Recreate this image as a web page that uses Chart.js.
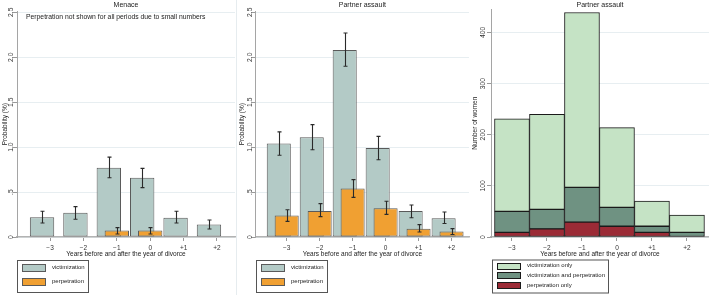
<!DOCTYPE html>
<html>
<head>
<meta charset="utf-8">
<script src="https://cdn.jsdelivr.net/npm/chart.js@4.4.1/dist/chart.umd.min.js"></script>
<style>
  html, body { margin: 0; padding: 0; background: #fff; }
  #wrap { position: relative; width: 709px; height: 295px; overflow: hidden; }
  canvas { position: absolute; top: 0; }
  #sep { position: absolute; left: 236px; top: 0; width: 1px; height: 295px; background: #e6ecef; }
</style>
</head>
<body>
<div id="wrap">
  <canvas id="menace" width="236" height="295" style="left:0"></canvas>
  <div id="sep"></div>
  <canvas id="assault" width="233" height="295" style="left:237px"></canvas>
  <canvas id="counts" width="239" height="295" style="left:470px"></canvas>
</div>
<script>
const FONT = "'Liberation Sans', Arial, sans-serif";

// years relative to divorce
const yearValues = [-3, -2, -1, 0, 1, 2];
const yearLabels = ['\u22123', '\u22122', '\u22121', '0', '+1', '+2'];

const probTickValues = [0, 0.5, 1, 1.5, 2, 2.5];
const probTickLabels = ['0', '.5', '1.0', '1.5', '2.0', '2.5'];
const countTickValues = [0, 100, 200, 300, 400];
const countTickLabels = ['0', '100', '200', '300', '400'];

// Menace (probability %, with 95% CI)
const menaceVict   = [0.22, 0.27, 0.77, 0.66, 0.215, 0.14];
const menaceVictLo = [0.156, 0.197, 0.66, 0.549, 0.156, 0.089];
const menaceVictHi = [0.286, 0.338, 0.889, 0.763, 0.286, 0.189];
const menacePerp   = [null, null, 0.071, 0.071, null, null];
const menacePerpLo = [null, null, 0.033, 0.033, null, null];
const menacePerpHi = [null, null, 0.104, 0.104, null, null];

// Partner assault (probability %, with 95% CI)
const assaultVict   = [1.04, 1.11, 2.08, 0.99, 0.29, 0.21];
const assaultVictLo = [0.91, 0.97, 1.90, 0.86, 0.215, 0.15];
const assaultVictHi = [1.17, 1.25, 2.27, 1.12, 0.356, 0.278];
const assaultPerp   = [0.24, 0.29, 0.54, 0.32, 0.093, 0.06];
const assaultPerpLo = [0.174, 0.227, 0.441, 0.252, 0.056, 0.027];
const assaultPerpHi = [0.304, 0.371, 0.638, 0.397, 0.138, 0.093];

// Partner assault, number of women
const countPerpOnly = [9, 16, 29, 21, 9, 0];
const countBoth     = [41, 38, 68, 37, 12, 9];
const countVictOnly = [181, 186, 342, 156, 49, 34];

const VICT = '#b3cac6', PERP = '#f0a032', EDGE = '#5a5a5a';
const SHIFT = 0.24; // victimization bars sit a bit left of the tick

const pts = vals => yearValues.map((x, i) => ({ x: x, y: vals[i] }));
const yearTicks = s => { s.ticks = yearValues.map(v => ({ value: v })); };

// draws CI whiskers right after each dataset
const errorBars = {
  id: 'errorBars',
  afterDatasetDraw(chart, args) {
    const ds = chart.data.datasets[args.index];
    if (!ds.errLow) return;
    const ctx = chart.ctx, ys = chart.scales.y;
    ctx.save();
    ctx.strokeStyle = '#2a2a2a';
    ctx.lineWidth = 1.1;
    args.meta.data.forEach((bar, i) => {
      const lo = ds.errLow[i], hi = ds.errHigh[i];
      if (lo == null || hi == null) return;
      const x = Math.round(bar.x) + 0.5;
      const y1 = ys.getPixelForValue(lo), y2 = ys.getPixelForValue(hi);
      ctx.beginPath();
      ctx.moveTo(x, y1); ctx.lineTo(x, y2);
      ctx.moveTo(x - 2, y1); ctx.lineTo(x + 2, y1);
      ctx.moveTo(x - 2, y2); ctx.lineTo(x + 2, y2);
      ctx.stroke();
    });
    ctx.restore();
  }
};

// stata style vertical tick labels on the y axis
const rotatedYTicks = {
  id: 'rotatedYTicks',
  afterDraw(chart, args, opts) {
    const ys = chart.scales.y, ctx = chart.ctx;
    ctx.save();
    ctx.font = '6.8px ' + FONT;
    ctx.fillStyle = '#333';
    ctx.textAlign = 'center';
    ctx.textBaseline = 'middle';
    opts.values.forEach((v, i) => {
      ctx.save();
      ctx.translate(chart.chartArea.left - opts.gap, ys.getPixelForValue(v));
      ctx.rotate(-Math.PI / 2);
      ctx.fillText(opts.labels[i], 0, 0);
      ctx.restore();
    });
    ctx.restore();
  }
};

// framed legend under the plot, one item per row
const boxLegend = {
  id: 'boxLegend',
  afterDraw(chart, args, opts) {
    const ctx = chart.ctx;
    const x0 = Math.round(chart.chartArea.left + opts.dx);
    ctx.save();
    ctx.strokeStyle = '#555';
    ctx.lineWidth = 1;
    ctx.strokeRect(x0 + 0.5, opts.top + 0.5, opts.width, opts.height);
    ctx.font = '6px ' + FONT;
    ctx.textBaseline = 'middle';
    opts.order.forEach((di, row) => {
      const ds = chart.data.datasets[di];
      const cy = opts.firstRow + row * opts.rowGap;
      const sy = Math.round(cy - opts.swatchH / 2) + 0.5;
      ctx.fillStyle = ds.backgroundColor;
      ctx.fillRect(x0 + 5.5, sy, 23, opts.swatchH);
      ctx.strokeStyle = ds.borderColor;
      ctx.strokeRect(x0 + 5.5, sy, 23, opts.swatchH);
      ctx.fillStyle = '#222';
      ctx.fillText(ds.label, x0 + 35, cy);
    });
    ctx.restore();
  }
};

const noteText = {
  id: 'noteText',
  afterDraw(chart, args, opts) {
    if (!opts.text) return;
    const ctx = chart.ctx;
    ctx.save();
    ctx.font = '6.8px ' + FONT;
    ctx.fillStyle = '#222';
    ctx.textBaseline = 'middle';
    ctx.fillText(opts.text, chart.chartArea.left + 9, 17);
    ctx.restore();
  }
};

function xAxis(min, max, extra) {
  return Object.assign({
    type: 'linear', min: min, max: max, offset: false,
    afterBuildTicks: yearTicks,
    ticks: {
      callback: (v, i) => yearLabels[i],
      font: { family: FONT, size: 6.5 }, color: '#333',
      padding: 3, maxRotation: 0, autoSkip: false
    },
    grid: { offset: false, drawOnChartArea: false, tickLength: 4, tickColor: '#999' },
    border: { color: '#b3b3b3', width: 1.5 },
    title: {
      display: true, text: 'Years before and after the year of divorce',
      font: { family: FONT, size: 6.5 }, color: '#222', padding: { top: 0, bottom: 1 }
    },
    afterFit: s => { s.height = 22; }
  }, extra || {});
}

function yAxis(max, ticks, title, width) {
  return {
    min: 0, max: max,
    stacked: false,
    afterBuildTicks: s => { s.ticks = ticks.map(v => ({ value: v })); },
    ticks: { display: false },
    grid: { color: '#e7eef1', tickLength: 4, tickColor: '#999' },
    border: { color: '#a5a5a5', width: 1 },
    title: {
      display: true, text: title,
      font: { family: FONT, size: 6.5 }, color: '#222', padding: { top: 1, bottom: 0 }
    },
    afterFit: s => { s.width = width; }
  };
}

function titleOpts(text, bottomPad) {
  return {
    display: true, text: text, fullSize: false,
    font: { family: FONT, size: 7, weight: 'normal' }, color: '#222',
    padding: { top: 1, bottom: bottomPad }
  };
}

function probabilityChart(id, title, vict, victLo, victHi, perp, perpLo, perpHi, xmin, xmax, axisW, note) {
  return new Chart(document.getElementById(id), {
    type: 'bar',
    data: {
      datasets: [
        {
          label: 'victimization', data: pts(vict), errLow: victLo, errHigh: victHi,
          xAxisID: 'xv', order: 2, grouped: false,
          backgroundColor: VICT, borderColor: EDGE, borderWidth: 1, borderSkipped: false,
          categoryPercentage: 1, barPercentage: 0.73
        },
        {
          label: 'perpetration', data: pts(perp), errLow: perpLo, errHigh: perpHi,
          xAxisID: 'x', order: 1, grouped: false,
          backgroundColor: PERP, borderColor: EDGE, borderWidth: 1, borderSkipped: false,
          categoryPercentage: 1, barPercentage: 0.73
        }
      ]
    },
    options: {
      responsive: false,
      animation: false,
      layout: { padding: { left: 0, right: 1, top: 0, bottom: 36 } },
      scales: {
        x: xAxis(xmin, xmax),
        xv: {
          type: 'linear', display: false, offset: false,
          min: xmin + SHIFT, max: xmax + SHIFT, afterBuildTicks: yearTicks
        },
        y: yAxis(2.51, probTickValues, 'Probability (%)', axisW)
      },
      plugins: {
        legend: { display: false },
        tooltip: { enabled: false },
        title: titleOpts(title, 2),
        rotatedYTicks: { values: probTickValues, labels: probTickLabels, gap: 5.5 },
        boxLegend: { dx: 0, top: 260, width: 71, height: 32, firstRow: 267, rowGap: 14, swatchH: 7, order: [0, 1] },
        noteText: { text: note }
      }
    },
    plugins: [errorBars, rotatedYTicks, boxLegend, noteText]
  });
}

probabilityChart('menace', 'Menace', menaceVict, menaceVictLo, menaceVictHi,
  menacePerp, menacePerpLo, menacePerpHi, -3.99, 2.54, 17,
  'Perpetration not shown for all periods due to small numbers');

probabilityChart('assault', 'Partner assault', assaultVict, assaultVictLo, assaultVictHi,
  assaultPerp, assaultPerpLo, assaultPerpHi, -3.94, 2.53, 18.7, null);

// stacked counts
const countsY = yAxis(445, countTickValues, 'Number of women', 21);
countsY.stacked = true;
new Chart(document.getElementById('counts'), {
  type: 'bar',
  data: {
    datasets: [
      { label: 'perpetration only', data: pts(countPerpOnly), backgroundColor: '#9b2b36' },
      { label: 'victimization and perpetration', data: pts(countBoth), backgroundColor: '#6f9282' },
      { label: 'victimization only', data: pts(countVictOnly), backgroundColor: '#c5e3c5' }
    ].map(d => Object.assign(d, {
      borderColor: '#1a1a1a', borderWidth: 1, borderSkipped: false,
      categoryPercentage: 1, barPercentage: 1
    }))
  },
  options: {
    responsive: false,
    animation: false,
    layout: { padding: { left: 0, right: 0, top: 0, bottom: 36 } },
    scales: {
      x: xAxis(-3.6, 2.63, { stacked: true }),
      y: countsY
    },
    plugins: {
      legend: { display: false },
      tooltip: { enabled: false },
      title: titleOpts('Partner assault', 0),
      rotatedYTicks: { values: countTickValues, labels: countTickLabels, gap: 7.5 },
      boxLegend: { dx: 1, top: 259.5, width: 116, height: 33, firstRow: 265.5, rowGap: 9.7, swatchH: 6, order: [2, 1, 0] }
    }
  },
  plugins: [rotatedYTicks, boxLegend]
});
</script>
</body>
</html>
